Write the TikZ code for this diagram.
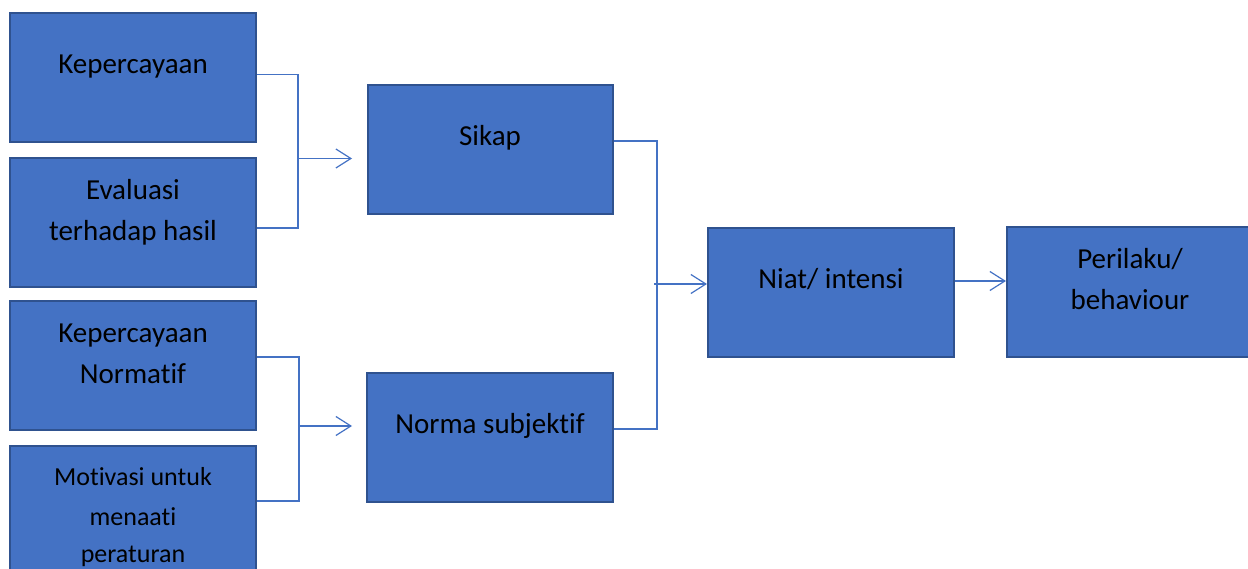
\documentclass[tikz,border=0pt]{standalone}
\usepackage{fontspec}
\setmainfont[Ligatures={NoCommon}]{Carlito}
\usetikzlibrary{arrows.meta}
\definecolor{boxfill}{HTML}{4472C4}
\definecolor{boxline}{HTML}{2F528F}
\tikzset{
  box/.style={draw=boxline, fill=boxfill, line width=2pt, minimum width=246pt, minimum height=129pt, inner sep=0pt},
  txt/.style={font=\fontsize{29}{41}\selectfont, anchor=base, inner sep=0pt, text=black},
  smalltxt/.style={font=\fontsize{26}{39}\selectfont, anchor=base, inner sep=0pt, text=black},
  conn/.style={draw=boxfill, line width=1.3pt},
  arr/.style={conn, -{Straight Barb[length=15pt,width=19pt,line width=1.2pt]}}
}
\begin{document}
\begin{tikzpicture}[x=1pt,y=-1pt]
\useasboundingbox (0,0) rectangle (1248,569);
\clip (0,0) rectangle (1248,569);
% boxes
\node[box] (k1) at (133,77.5) {};
\node[box] (k2) at (133,222.5) {};
\node[box] (k3) at (133,365.5) {};
\node[box] (k4) at (133,510.5) {};
\node[box, minimum width=245pt] (sikap) at (490.5,149.5) {};
\node[box] (norma) at (490,437.5) {};
\node[box] (niat) at (831,292.5) {};
\node[box, minimum height=130pt] (perilaku) at (1130,292) {};
% texts
\node[txt] (t1) at (133,73.5) {Kepercayaan};
\node[txt] (t2a) at (133,199.5) {Evaluasi};
\node[txt] (t2b) at (133,240.5) {terhadap hasil};
\node[txt] (t3a) at (133,342.5) {Kepercayaan};
\node[txt] (t3b) at (133,383.5) {Normatif};
\node[smalltxt] (t4a) at (133,485) {Motivasi untuk};
\node[smalltxt] (t4b) at (133,525) {menaati};
\node[smalltxt] (t4c) at (133,562) {peraturan};
\node[txt] (ts) at (490,145.5) {Sikap};
\node[txt] (tn) at (490,433.5) {Norma subjektif};
\node[txt] (ti) at (831,288.5) {Niat/ intensi};
\node[txt] (tp1) at (1130,268.5) {Perilaku/};
\node[txt] (tp2) at (1130,309.5) {behaviour};
% junction coordinates
\coordinate (j1) at (298,158.5);
\coordinate (j2) at (299,426);
\coordinate (j3) at (654,284);
% connectors
\draw[conn] ([yshift=3pt]k1.east) -| (298,228) -- (k2.east |- 0,228);
\draw[arr, shorten >=15pt] (j1) -- (sikap.west |- j1);
\draw[conn] ([yshift=8.5pt]k3.east) -| (299,501) -- (k4.east |- 0,501);
\draw[arr, shorten >=14pt] (j2) -- (norma.west |- j2);
\draw[conn] ([yshift=8.5pt]sikap.east) -| (657,429) -- (norma.east |- 0,429);
\draw[arr] (j3) -- (niat.west |- j3);
\draw[arr] ([yshift=11.5pt]niat.east) -- (perilaku.west |- 0,281);
\end{tikzpicture}
\end{document}
